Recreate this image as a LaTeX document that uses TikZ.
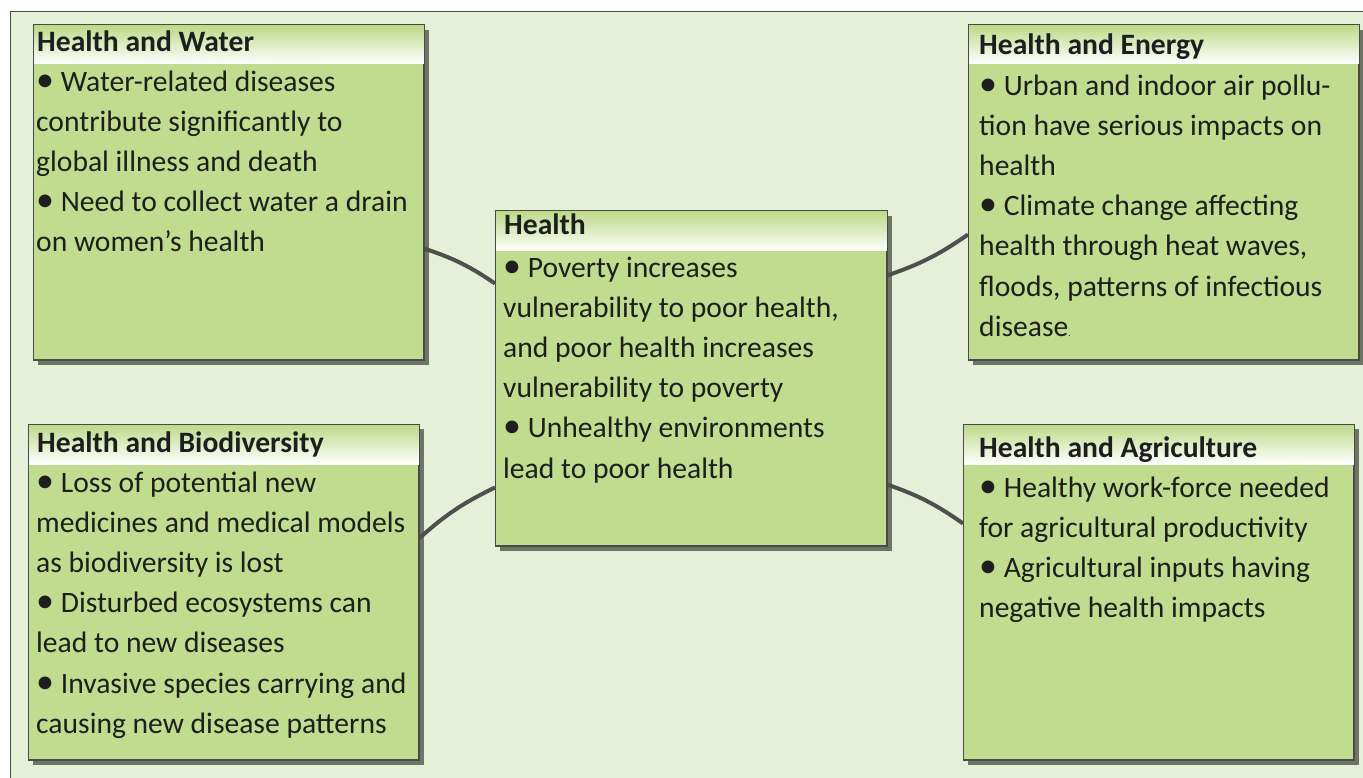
\documentclass[tikz,border=0pt]{standalone}
\usepackage{fontspec}
\setmainfont{Carlito}
\usetikzlibrary{calc}
\definecolor{bgc}{HTML}{E6F0D8}
\definecolor{bodyc}{HTML}{C0DC8E}
\definecolor{headc}{HTML}{BCD987}
\definecolor{headm}{HTML}{DCEBC4}
\definecolor{shadc}{HTML}{6E7566}
\definecolor{edgec}{HTML}{4A4A4A}
\definecolor{linec}{HTML}{4F4F4F}
\definecolor{txtc}{HTML}{1E1E1E}
\pgfdeclarelayer{bg}\pgfdeclarelayer{conn}\pgfsetlayers{bg,conn,main}
\tikzset{
  panel/.style={rectangle, draw=edgec, line width=1pt, fill=bodyc, inner sep=0pt, anchor=north west},
  ttl/.style={anchor=base west, inner sep=0pt, font=\fontsize{29.6}{40}\selectfont\bfseries, text=txtc},
  bod/.style={anchor=base west, inner sep=0pt, align=left, font=\fontsize{29.6}{40.2}\selectfont, text=txtc},
  link/.style={draw=linec, line width=4pt},
}
\newcommand\panelbox[6]{%
  \node[panel, minimum width=#4pt, minimum height=#5pt] (#1) at (#2,#3) {};
  \begin{pgfonlayer}{bg}
    \fill[shadc] ([shift={(5pt,-5pt)}]#1.north west) rectangle ([shift={(5pt,-5pt)}]#1.south east);
  \end{pgfonlayer}
  \shade[top color=headc, middle color=headm, bottom color=white] (#1.north west) rectangle ([yshift=-#6pt]#1.north east);
  \draw[edgec, line width=1pt] (#1.north west) rectangle (#1.south east);
}
\newcommand\bul{{\fontsize{36}{40}\selectfont •}}
\begin{document}
\begin{tikzpicture}[x=1pt, y=-1pt]
\useasboundingbox (0,0) rectangle (1363,778);
\begin{pgfonlayer}{bg}
  \fill[white] (0,0) rectangle (1363,778);
  \draw[edgec, line width=1pt, fill=bgc] (10,12) rectangle (1380,800);
\end{pgfonlayer}

\panelbox{water}{33}{25}{390}{334}{39}
\panelbox{health}{495}{211}{391}{334}{40}
\panelbox{energy}{968}{25}{390}{334}{39}
\panelbox{bio}{28}{424}{390}{335}{40}
\panelbox{agri}{963}{424}{390}{335}{40}

% body nodes are anchored at the baseline of their last line
\node[ttl] (wT) at (37,52) {Health and Water};
\node[bod] (wB) at (36,251.8) {\bul{} Water-related diseases\\contribute significantly to\\global illness and death\\\bul{} Need to collect water a drain\\on women’s health};

\node[ttl] (hT) at (504,235) {Health};
\node[bod] (hB) at (503,478) {\bul{} Poverty increases\\vulnerability to poor health,\\and poor health increases\\vulnerability to poverty\\\bul{} Unhealthy environments\\lead to poor health};

\node[ttl] (eT) at (979,55) {Health and Energy};
\node[bod] (eB) at (979,336.2) {\bul{} Urban and indoor air pollu-\\tion have serious impacts on\\health\\\bul{} Climate change affecting\\health through heat waves,\\floods, patterns of infectious\\disease{\fontsize{9}{9}\selectfont.}};

\node[ttl] (bT) at (37,452) {Health and Biodiversity};
\node[bod] (bB) at (36,733.2) {\bul{} Loss of potential new\\medicines and medical models\\as biodiversity is lost\\\bul{} Disturbed ecosystems can\\lead to new diseases\\\bul{} Invasive species carrying and\\causing new disease patterns};

\node[ttl] (aT) at (979,457) {Health and Agriculture};
\node[bod] (aB) at (979,617.6) {\bul{} Healthy work-force needed\\for agricultural productivity\\\bul{} Agricultural inputs having\\negative health impacts};

\begin{pgfonlayer}{conn}
  \draw[link] ([yshift=-56pt]water.east) to[bend left=8] ([yshift=95pt]health.west);
  \draw[link] ([yshift=103pt]health.east) to[bend right=8] ([yshift=-42pt]energy.west);
  \draw[link] ([yshift=53.5pt]bio.east) to[bend left=8] ([yshift=-109pt]health.west);
  \draw[link] ([yshift=-106pt]health.east) to[bend left=8] ([yshift=68.5pt]agri.west);
\end{pgfonlayer}
\end{tikzpicture}
\end{document}
